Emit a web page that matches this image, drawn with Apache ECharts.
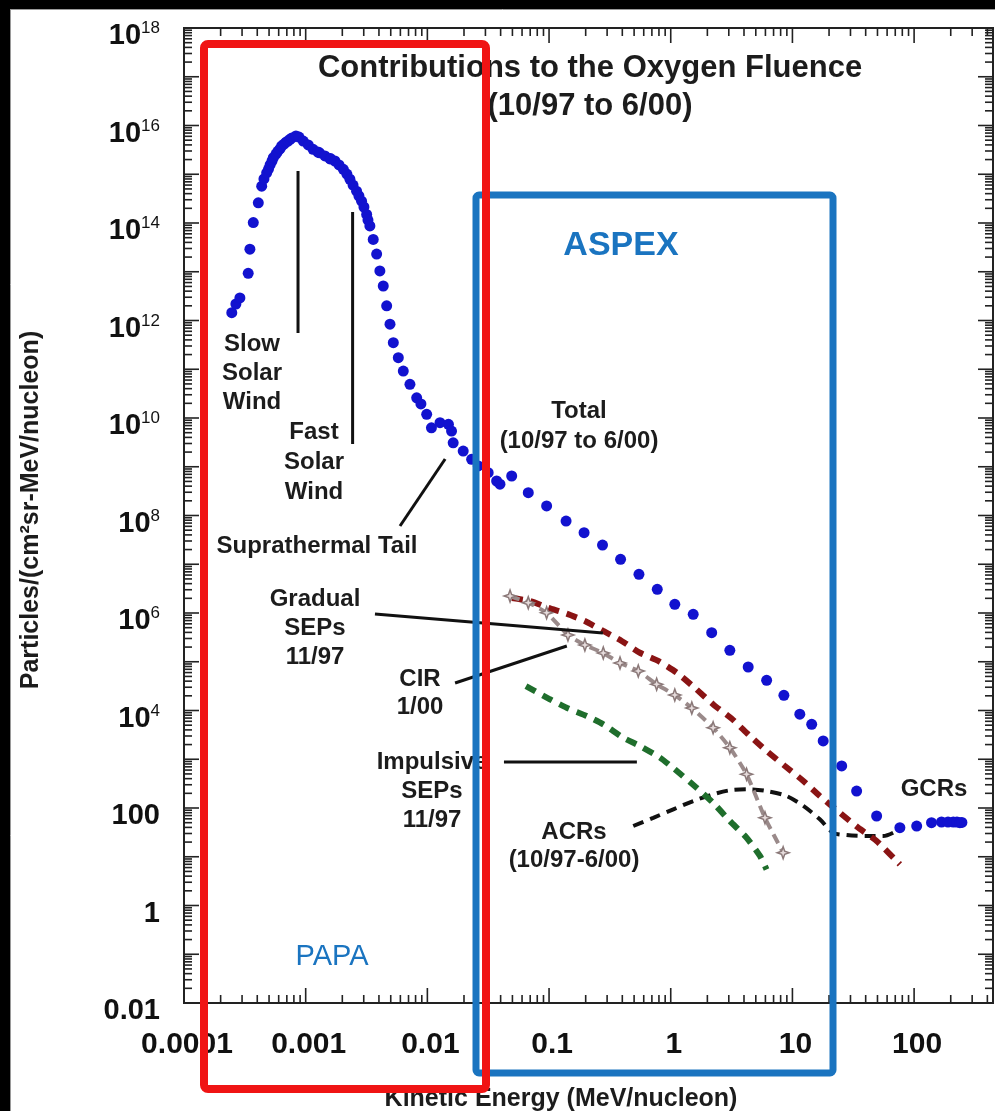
<!DOCTYPE html>
<html>
<head>
<meta charset="utf-8">
<script src="https://cdn.jsdelivr.net/npm/echarts@6/dist/echarts.min.js"></script>
<style>
  html, body { margin: 0; padding: 0; background: #fff; }
  #chart { width: 995px; height: 1111px; }
</style>
</head>
<body>
<div id="chart"></div>
<script>
// Oxygen fluence, 10/97 to 6/00. Energy in MeV/nucleon, fluence in particles/(cm2 sr MeV/nucleon).

// Total fluence (blue dots)
const totalEnergy = [2.47e-4, 2.67e-4, 2.88e-4, 3.37e-4, 3.48e-4, 3.71e-4, 4.08e-4, 4.35e-4, 4.54e-4, 4.78e-4,
  4.95e-4, 5.1e-4, 5.29e-4, 5.42e-4, 5.7e-4, 5.9e-4, 6.15e-4, 6.35e-4, 6.64e-4, 6.9e-4,
  7.16e-4, 7.43e-4, 7.71e-4, 8.32e-4, 8.81e-4, 9.55e-4, 1.05e-3, 1.15e-3, 1.26e-3, 1.3e-3,
  1.44e-3, 1.585e-3, 1.6e-3, 1.74e-3, 1.88e-3, 2.04e-3, 2.18e-3, 2.31e-3, 2.45e-3, 2.62e-3,
  2.74e-3, 2.88e-3, 3.01e-3, 3.17e-3, 3.25e-3, 3.37e-3, 3.59e-3,
  3.83e-3, 4.07e-3, 4.34e-3, 4.63e-3, 4.93e-3, 5.25e-3, 5.77e-3, 6.34e-3, 7.19e-3, 8.17e-3,
  8.85e-3, 9.87e-3, 1.08e-2, 1.27e-2, 1.49e-2, 1.58e-2, 1.63e-2, 1.97e-2, 2.31e-2, 2.62e-2,
  3.16e-2, 3.71e-2, 3.95e-2, 4.93e-2, 6.75e-2, 9.55e-2, 0.138, 0.194, 0.275, 0.387,
  0.548, 0.775, 1.08, 1.53, 2.17, 3.06, 4.33, 6.14, 8.51, 11.5,
  14.4, 17.9, 25.4, 33.7, 49.2, 76.4, 105, 139, 168, 190, 210, 225, 238, 247];
const totalFluence = [1.45e12, 2.18e12, 2.9e12, 9.3e12, 2.9e13, 1.02e14, 2.6e14, 5.7e14, 8.0e14, 1.07e15,
  1.28e15, 1.55e15, 1.87e15, 2.19e15, 2.6e15, 2.95e15, 3.3e15, 3.8e15, 4.17e15, 4.55e15,
  4.81e15, 5.2e15, 5.55e15, 6.1e15, 5.8e15, 4.8e15, 4.0e15, 3.25e15, 2.86e15, 2.75e15,
  2.37e15, 2.06e15, 2.1e15, 1.87e15, 1.55e15, 1.26e15, 1.01e15, 7.9e14, 6.0e14, 4.5e14,
  3.58e14, 2.8e14, 2.13e14, 1.5e14, 1.15e14, 8.7e13, 4.6e13,
  2.3e13, 1.04e13, 5.1e12, 2.0e12, 8.4e11, 3.5e11, 1.73e11, 9.2e10, 4.9e10, 2.6e10,
  1.94e10, 1.19e10, 6.3e9, 8.0e9, 7.4e9, 5.4e9, 3.1e9, 2.1e9, 1.42e9, 1.04e9,
  7.55e8, 5.1e8, 4.4e8, 6.46e8, 2.94e8, 1.57e8, 7.7e7, 4.44e7, 2.48e7, 1.26e7,
  6.2e6, 3.06e6, 1.51e6, 9.4e5, 3.94e5, 1.72e5, 7.8e4, 4.16e4, 2.05e4, 8.4e3,
  5.2e3, 2.37e3, 728, 223, 68.5, 39.4, 42.7, 49.9, 51.6, 51.6, 51.6, 51.6, 49.9, 50.5];

// Gradual SEPs 11/97
const gradualEnergy = [0.0495, 0.0697, 0.0985, 0.1395, 0.197, 0.279, 0.395, 0.558, 0.789, 1.12, 1.58,
  2.26, 3.16, 4.39, 6.13, 8.67, 12.3, 16.8, 24.5, 34.7, 49.2, 76.4];
const gradualFluence = [2.03e6, 1.76e6, 1.28e6, 9.7e5, 6.85e5, 4.28e5, 2.67e5, 1.53e5, 1.04e5, 5.96e4, 2.9e4,
  1.3e4, 6.85e3, 3.14e3, 1.48e3, 728, 358, 176, 80, 39.4, 21, 7.0];

// CIR 1/00
const cirEnergy = [0.0478, 0.0675, 0.0955, 0.143, 0.197, 0.279, 0.383, 0.541, 0.766, 1.08, 1.49, 2.23, 3.06, 4.2, 5.95, 8.39];
const cirFluence = [2.23e6, 1.63e6, 1.01e6, 3.54e5, 2.21e5, 1.51e5, 9.4e4, 6.46e4, 3.45e4, 2.08e4, 1.12e4, 4.44e3, 1.73e3, 491, 63, 12.1];

// Impulsive SEPs 11/97
const impulsiveEnergy = [0.0646, 0.1017, 0.1395, 0.204, 0.279, 0.407, 0.558, 0.815, 1.08, 1.63, 2.23, 3.06, 4.2, 5.41, 6.13];
const impulsiveFluence = [3.18e4, 1.7e4, 1.14e4, 7.7e3, 5.2e3, 2.77e3, 1.87e3, 1.08e3, 622, 261, 128, 54, 24.6, 10.4, 5.5];

// Anomalous cosmic rays 10/97-6/00
const acrEnergy = [0.492, 0.718, 1.05, 1.53, 2.23, 3.06, 4.33, 6.13, 8.95, 12.3, 16.8, 21.6, 27.9, 40.7, 55.7, 67.3];
const acrFluence = [42.7, 63, 94, 139, 191, 231, 242, 223, 176, 110, 58.6, 31.2, 27.9, 26.6, 26.6, 31.2];

// Labelled decades on each axis (powers of ten)
const xLabelExponents = [-4, -3, -2, -1, 0, 1, 2];
const yLabelExponents = [-2, 0, 2, 4, 6, 8, 10, 12, 14, 16, 18];

// Axis ranges
const xMin = 1e-4, xMax = 445;
const yMin = 1e-2, yMax = 1e18;

// Leader lines from the text notes to the curves, in data coordinates
const leaderLines = [
  [[8.65e-4, 1.17e15], [8.65e-4, 5.55e11]],   // slow solar wind
  [[2.43e-3, 1.68e14], [2.43e-3, 2.93e9]],    // fast solar wind
  [[1.40e-2, 1.44e9], [5.96e-3, 6.1e7]],      // suprathermal tail
  [[3.71e-3, 9.5e5], [0.277, 3.89e5]],        // gradual SEPs
  [[1.69e-2, 3.66e4], [0.140, 2.1e5]],        // CIR
  [[4.26e-2, 879], [0.527, 879]]              // impulsive SEPs
];

const zip = (a, b) => a.map((v, i) => [v, b[i]]);
const exponentOf = v => Math.log10(v);
const isDecade = v => Math.abs(exponentOf(v) - Math.round(exponentOf(v))) < 1e-6;

// Tick marks: kind 0/1 = x minor/major, 2/3 = y minor/major
const tickData = [];
for (let e = -4; e <= 2; e++) {
  for (let k = 1; k <= 9; k++) {
    const v = k * Math.pow(10, e);
    if (v <= xMax) tickData.push([v, yMin, k === 1 ? 1 : 0]);
  }
}
for (let e = -2; e <= 18; e++) {
  for (let k = 1; k <= 9; k++) {
    const v = k * Math.pow(10, e);
    if (v <= yMax * 1.0001) tickData.push([xMin, v, k === 1 ? 3 : 2]);
  }
}

const FONT = '"Liberation Sans", Arial, Helvetica, sans-serif';
const TEXT = '#1c1c1c';
const BOX_BLUE = '#1a74c0';
const BOX_RED = '#f01414';

function xLabel(v) {
  if (!isDecade(v)) return '';
  const e = Math.round(exponentOf(v));
  if (xLabelExponents.indexOf(e) < 0) return '';
  return e < 0 ? '0.' + '0'.repeat(-e - 1) + '1' : '1' + '0'.repeat(e);
}
function yLabel(v) {
  if (!isDecade(v)) return '';
  const e = Math.round(exponentOf(v));
  if (yLabelExponents.indexOf(e) < 0) return '';
  if (e >= -2 && e <= 2) return '{b|' + (e < 0 ? '0.' + '0'.repeat(-e - 1) + '1' : '1' + '0'.repeat(e)) + '}';
  return '{b|10}{s|' + e + '}';
}

function note(text, x, y, opts) {
  const o = opts || {};
  return {
    type: 'text', z: o.z || 10,
    x: x, y: y,
    rotation: o.rotation || 0,
    style: {
      text: text,
      font: (o.weight || 'bold') + ' ' + (o.size || 24) + 'px ' + FONT,
      fill: o.color || TEXT,
      align: 'center',
      verticalAlign: 'middle',
      lineHeight: o.lineHeight || 29
    }
  };
}

const leaderSeries = leaderLines.map(seg => ({
  type: 'line', data: seg, showSymbol: false, symbol: 'none', silent: true,
  lineStyle: { color: '#111', width: 3 }, z: 4
}));

const chart = echarts.init(document.getElementById('chart'), null, { renderer: 'canvas' });
chart.setOption({
  animation: false,
  backgroundColor: '#ffffff',
  grid: {
    left: 184, right: 2, top: 28, bottom: 108,
    show: true, borderColor: '#222', borderWidth: 2, backgroundColor: 'transparent',
    containLabel: false, outerBoundsMode: 'none'
  },
  xAxis: {
    type: 'log', logBase: 10, min: xMin, max: xMax, interval: 1,
    axisLine: { show: false }, axisTick: { show: false }, splitLine: { show: false },
    axisLabel: {
      formatter: xLabel, margin: 27, color: '#111',
      fontFamily: FONT, fontSize: 30, fontWeight: 'bold',
      padding: [0, 0, 0, 6], showMinLabel: true, showMaxLabel: true, hideOverlap: false
    }
  },
  yAxis: {
    type: 'log', logBase: 10, min: yMin, max: yMax, interval: 2,
    axisLine: { show: false }, axisTick: { show: false }, splitLine: { show: false },
    axisLabel: {
      formatter: yLabel, margin: 24, color: '#111',
      fontFamily: FONT, padding: [16, 0, 0, 0],
      showMinLabel: true, showMaxLabel: true, hideOverlap: false,
      rich: {
        b: { fontSize: 29, fontWeight: 'bold', fontFamily: FONT, color: '#111', lineHeight: 32 },
        s: { fontSize: 17, fontWeight: 'normal', fontFamily: FONT, color: '#111', lineHeight: 18, verticalAlign: 'top' }
      }
    }
  },
  series: [
    {
      type: 'custom', silent: true, clip: false, z: 1,
      data: tickData,
      encode: { x: 0, y: 1 },
      renderItem: function (params, api) {
        const cs = params.coordSys;
        const kind = api.value(2);
        const p = api.coord([api.value(0), api.value(1)]);
        const len = (kind % 2 === 1) ? 15 : 8;
        let segs;
        if (kind < 2) {
          const yb = cs.y + cs.height, yt = cs.y;
          segs = [[p[0], yb, p[0], yb - len], [p[0], yt, p[0], yt + len]];
        } else {
          const xl = cs.x, xr = cs.x + cs.width;
          segs = [[xl, p[1], xl + len, p[1]], [xr, p[1], xr - len, p[1]]];
        }
        return {
          type: 'group',
          children: segs.map(s => ({
            type: 'line',
            shape: { x1: s[0], y1: s[1], x2: s[2], y2: s[3] },
            style: { stroke: '#222', lineWidth: 1.6 }
          }))
        };
      }
    },
    {
      name: 'ACRs', type: 'line', data: zip(acrEnergy, acrFluence), smooth: 0.3,
      showSymbol: false, symbol: 'none', z: 3,
      lineStyle: { color: '#111', width: 4, type: [11, 7] }
    },
    {
      name: 'Impulsive SEPs', type: 'line', data: zip(impulsiveEnergy, impulsiveFluence), smooth: 0.2,
      showSymbol: false, symbol: 'none', z: 3,
      lineStyle: { color: '#1f6e2c', width: 6, type: [11, 8] }
    },
    {
      name: 'Gradual SEPs', type: 'line', data: zip(gradualEnergy, gradualFluence), smooth: 0.2,
      showSymbol: false, symbol: 'none', z: 3,
      lineStyle: { color: '#8a1414', width: 6, type: [11, 8] }
    },
    {
      name: 'CIR', type: 'line', data: zip(cirEnergy, cirFluence), smooth: 0.2,
      symbol: 'path://M5,0 L6.3,3.7 L10,5 L6.3,6.3 L5,10 L3.7,6.3 L0,5 L3.7,3.7 Z',
      symbolSize: 12, showSymbol: true, z: 3,
      itemStyle: { color: '#e6dcdc', borderColor: '#8a7878', borderWidth: 1.5 },
      lineStyle: { color: '#9a8a8a', width: 4, type: [10, 6] }
    },
    {
      name: 'Total', type: 'scatter', data: zip(totalEnergy, totalFluence),
      symbol: 'circle', symbolSize: 11, z: 5,
      itemStyle: { color: '#1212cf', opacity: 1 }
    }
  ].concat(leaderSeries),
  graphic: {
    elements: [
      // frame
      { type: 'rect', z: 100, shape: { x: 0, y: 0, width: 995, height: 9 }, style: { fill: '#000' } },
      { type: 'rect', z: 100, shape: { x: 0, y: 0, width: 10, height: 1111 }, style: { fill: '#000' } },
      { type: 'line', z: 100, shape: { x1: 10, y1: 9.5, x2: 995, y2: 9.5 }, style: { stroke: '#9a9a9a', lineWidth: 1 } },
      { type: 'line', z: 100, shape: { x1: 10.5, y1: 9, x2: 10.5, y2: 1111 }, style: { stroke: '#9a9a9a', lineWidth: 1 } },

      // title and notes
      note('Contributions to the Oxygen Fluence\n(10/97 to 6/00)', 590, 87, { size: 31, lineHeight: 38 }),
      note('ASPEX', 621, 246, { size: 34, color: BOX_BLUE }),
      note('PAPA', 332, 957, { size: 29, weight: 'normal', color: BOX_BLUE }),
      note('Slow\nSolar\nWind', 252, 373),
      note('Fast\nSolar\nWind', 314, 462, { lineHeight: 30 }),
      note('Suprathermal Tail', 317, 546),
      note('Total\n(10/97 to 6/00)', 579, 426, { lineHeight: 30 }),
      note('Gradual\nSEPs\n11/97', 315, 628),
      note('CIR\n1/00', 420, 693, { lineHeight: 28 }),
      note('Impulsive\nSEPs\n11/97', 432, 791),
      note('ACRs\n(10/97-6/00)', 574, 846, { lineHeight: 28 }),
      note('GCRs', 934, 789),

      // axis titles
      note('Kinetic Energy (MeV/nucleon)', 561, 1099, { size: 25 }),
      note('Particles/(cm\u00b2sr-MeV/nucleon)', 31, 510, { size: 25, rotation: Math.PI / 2 }),

      // instrument coverage boxes
      { type: 'rect', z: 50, shape: { x: 476, y: 195, width: 357, height: 878, r: 3 },
        style: { fill: 'none', stroke: BOX_BLUE, lineWidth: 7 } },
      { type: 'rect', z: 51, shape: { x: 204, y: 44, width: 282, height: 1045, r: 4 },
        style: { fill: 'none', stroke: BOX_RED, lineWidth: 8 } }
    ]
  }
});
</script>
</body>
</html>
